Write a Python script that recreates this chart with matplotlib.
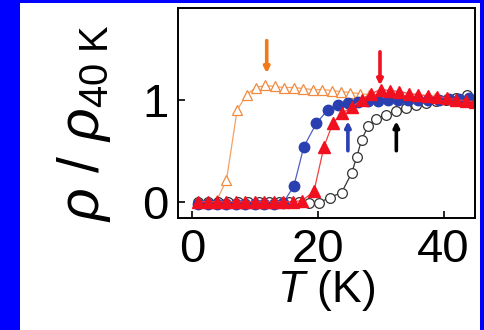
import matplotlib
matplotlib.use("Agg")
import matplotlib.pyplot as plt
from matplotlib.patches import Rectangle

plt.rcParams["font.family"] = ["Liberation Sans", "DejaVu Sans"]
plt.rcParams["mathtext.fontset"] = "custom"
plt.rcParams["mathtext.rm"] = "Liberation Sans"
plt.rcParams["mathtext.it"] = "Liberation Sans:italic"

# temperature / normalised resistivity for the four samples
T_orange = [1, 2.5, 4, 5.5, 7.2, 8.7, 10.2, 11.7, 13.2, 14.7, 16.2, 17.7, 19.2,
            20.7, 22.2, 23.7, 25.2, 26.7, 28.2, 29.7, 31.2, 32.7, 34.2, 35.7,
            37.2, 38.7, 40.2, 41.7, 43.2]
R_orange = [0.0, 0.0, 0.02, 0.21, 0.90, 1.05, 1.12, 1.14, 1.13, 1.12, 1.12, 1.11,
            1.10, 1.10, 1.09, 1.08, 1.07, 1.06, 1.05, 1.05, 1.04, 1.04, 1.03,
            1.03, 1.02, 1.02, 1.01, 1.01, 1.00]

T_black = [1, 2.6, 4.2, 5.8, 7.4, 9, 10.6, 12.2, 13.8, 15.4, 17, 18.6, 20.2,
           21.9, 23.8, 25.4, 26.2, 27, 28, 29.3, 30.8, 32.4, 34, 35.6, 37.2,
           38.8, 40.4, 42, 43.8]
R_black = [0.0, 0.0, 0.0, 0.0, 0.0, 0.0, 0.0, 0.0, 0.0, 0.0, 0.0, -0.01, -0.01,
           0.04, 0.09, 0.28, 0.44, 0.61, 0.74, 0.81, 0.85, 0.89, 0.92, 0.95,
           0.97, 0.99, 1.0, 1.02, 1.05]

T_blue = [1, 2.5, 4, 5.5, 7, 8.5, 10, 11.5, 13, 14.5, 16.2, 17.8, 19.8, 21.6,
          23.2, 24.8, 26.4, 28, 29.6, 31.2, 32.8, 34.4, 36, 37.6, 39.2, 40.8,
          42.4, 44]
R_blue = [-0.02, -0.02, -0.02, -0.02, -0.02, -0.02, -0.02, -0.02, -0.02, -0.01,
          0.15, 0.54, 0.77, 0.90, 0.95, 0.97, 0.98, 0.99, 0.99, 1.0, 1.0, 1.0,
          1.0, 1.0, 1.0, 1.01, 1.01, 1.02]

T_red = [1, 2.5, 4, 5.5, 7, 8.5, 10, 11.5, 13, 14.5, 16, 17.5, 19.4, 21, 22.4,
         23.9, 25.5, 27, 28.5, 30, 31.5, 33, 34.5, 36, 37.5, 39, 40.5, 42, 43.5,
         45]
R_red = [0.0, 0.0, 0.0, 0.0, 0.0, 0.0, 0.0, 0.0, 0.0, 0.0, 0.0, 0.01, 0.1,
         0.54, 0.77, 0.87, 0.93, 1.0, 1.06, 1.1, 1.09, 1.08, 1.06, 1.05, 1.04,
         1.03, 1.02, 1.0, 0.99, 0.98]

# onset arrows: (T, tail, head)
arrows = [
    (11.9, 1.58, 1.26, "#f07a1a"),
    (29.9, 1.47, 1.14, "#f01020"),
    (24.8, 0.50, 0.79, "#2a3fb0"),
    (32.5, 0.50, 0.79, "black"),
]

fig = plt.figure(figsize=(4.85, 3.3), dpi=100, facecolor="#0000ff")
fig.add_artist(Rectangle((20 / 485, 0), 460 / 485, 327 / 330,
                         transform=fig.transFigure, facecolor="white",
                         edgecolor="none", zorder=-10))
ax = fig.add_axes([178 / 485, 112 / 330, 297 / 485, 210 / 330])

ax.plot(T_orange, R_orange, "-^", color="#f5a060", lw=0.9, ms=7,
        mfc="white", mec="#f08a40", mew=0.9)
ax.plot(T_black, R_black, "-o", color="#333333", lw=0.9, ms=7,
        mfc="white", mec="#333333", mew=0.9)
ax.plot(T_blue, R_blue, "-o", color="#5060c0", lw=0.9, ms=7.5,
        mfc="#2a3fb0", mec="#2a3fb0")
ax.plot(T_red, R_red, "-^", color="#f04040", lw=0.9, ms=8,
        mfc="#f01020", mec="#f01020")

for t, y0, y1, c in arrows:
    ax.annotate("", xy=(t, y1), xytext=(t, y0),
                arrowprops=dict(arrowstyle="-|>", color=c, lw=2.6,
                                mutation_scale=8, shrinkA=0, shrinkB=0))

ax.set_xlim(-2.2, 45)
ax.set_ylim(-0.16, 1.9)
ax.set_xticks([0, 20, 40])
ax.set_yticks([0, 1])
ax.tick_params(direction="in", length=5, width=1.2, labelsize=34, pad=7)
for s in ax.spines.values():
    s.set_linewidth(1.4)

ax.set_xlabel(r"$T$ (K)", fontsize=32, labelpad=-3)
ax.set_ylabel(r"$\rho\ /\ \rho_{\rm 40\ K}$", fontsize=41)
ax.yaxis.set_label_coords(-0.219, 0.452)

fig.savefig("out.png", dpi=100, facecolor=fig.get_facecolor())
